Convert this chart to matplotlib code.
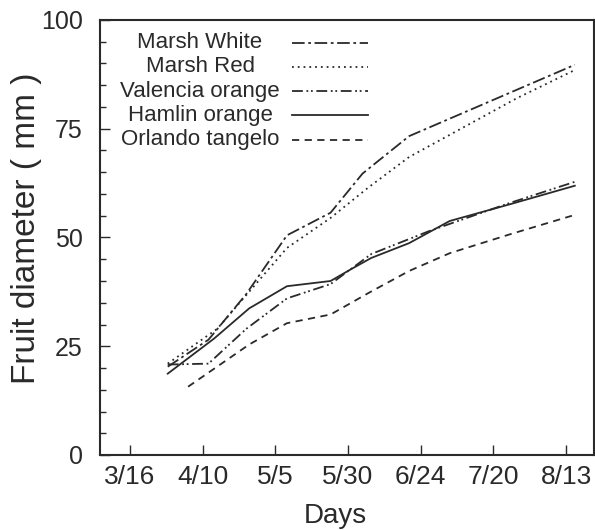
import matplotlib
matplotlib.use("Agg")
import matplotlib.pyplot as plt
from matplotlib.ticker import MultipleLocator
from matplotlib.lines import Line2D

plt.rcParams['font.family'] = ['Liberation Sans', 'DejaVu Sans']

# x in days after 3/16
tick_days = [0, 25, 50, 75, 100, 125, 150]
tick_labels = ["3/16", "4/10", "5/5", "5/30", "6/24", "7/20", "8/13"]

mw_days = [13, 27, 40, 54, 69, 80, 96, 153]
mw_vals = [20.3, 26.5, 37, 50.5, 55.7, 64.7, 73.3, 89.7]

mr_days = [13, 30, 54, 69, 82, 96, 133, 153]
mr_vals = [21, 29, 47.6, 54.5, 61.5, 68.5, 82, 88.5]

va_days = [13, 27, 40, 54, 69, 83, 103, 130, 153]
va_vals = [20.8, 21, 29, 36, 39.3, 46.2, 51.5, 57.8, 62.8]

ha_days = [13, 29, 41, 54, 69, 76, 83, 96, 110, 131, 153]
ha_vals = [18.7, 26.8, 33.7, 38.8, 40, 42.7, 45.3, 48.7, 53.8, 57.7, 61.9]

or_days = [20, 41, 54, 69, 83, 96, 110, 131, 152]
or_vals = [15.7, 25.4, 30.3, 32.3, 37.6, 42.3, 46.4, 50.8, 55]

names = ["Marsh White", "Marsh Red", "Valencia orange", "Hamlin orange", "Orlando tangelo"]
col = "#2a2a2a"
styles = [
    dict(dashes=(7, 2, 1.5, 2)),
    dict(dashes=(1, 2.2)),
    dict(dashes=(6, 2, 1, 1.5, 1, 2)),
    dict(linestyle='-'),
    dict(dashes=(4, 3)),
]
series = [(mw_days, mw_vals), (mr_days, mr_vals), (va_days, va_vals),
          (ha_days, ha_vals), (or_days, or_vals)]

fig = plt.figure(figsize=(5.95, 5.30), dpi=100)
ax = fig.add_axes([100/595, 75/530, 494/595, 435/530])

for (d, v), st in zip(series, styles):
    ax.plot(d, v, color=col, lw=1.3, **st)

ax.set_xlim(-10.3, 159.6)
ax.set_ylim(0, 100)
ax.set_xticks(tick_days)
ax.set_xticklabels(tick_labels)
ax.yaxis.set_major_locator(MultipleLocator(25))
ax.yaxis.set_minor_locator(MultipleLocator(5))
ax.tick_params(axis='both', which='major', direction='in', length=7, width=1,
               colors=col)
ax.tick_params(axis='y', which='major', pad=12.5, labelsize=18)
ax.tick_params(axis='x', which='major', pad=7, labelsize=19)
ax.tick_params(axis='y', which='minor', direction='in', length=4.5, width=1, colors=col)
for s in ax.spines.values():
    s.set_linewidth(1.5)
    s.set_color(col)

ax.set_xlabel("Days", fontsize=20, color=col)
ax.xaxis.set_label_coords(0.476, -0.110)
ax.set_ylabel("Fruit diameter ( mm )", fontsize=24, color=col)
ax.yaxis.set_label_coords(-0.117, 0.522)

# legend: centered labels on left, line samples on right
row_y = [43, 67, 91, 115, 140]
for name, st, yp in zip(names, styles, row_y):
    ya = (455 - yp) / 435
    ax.text((200 - 100) / 494, ya, name, transform=ax.transAxes, ha='center',
            va='center', fontsize=16, color=col)
    ax.add_line(Line2D([(292 - 100) / 494, (368 - 100) / 494], [ya, ya],
                       transform=ax.transAxes, color=col, lw=1.3, **st))

fig.savefig("out.png", dpi=100)
